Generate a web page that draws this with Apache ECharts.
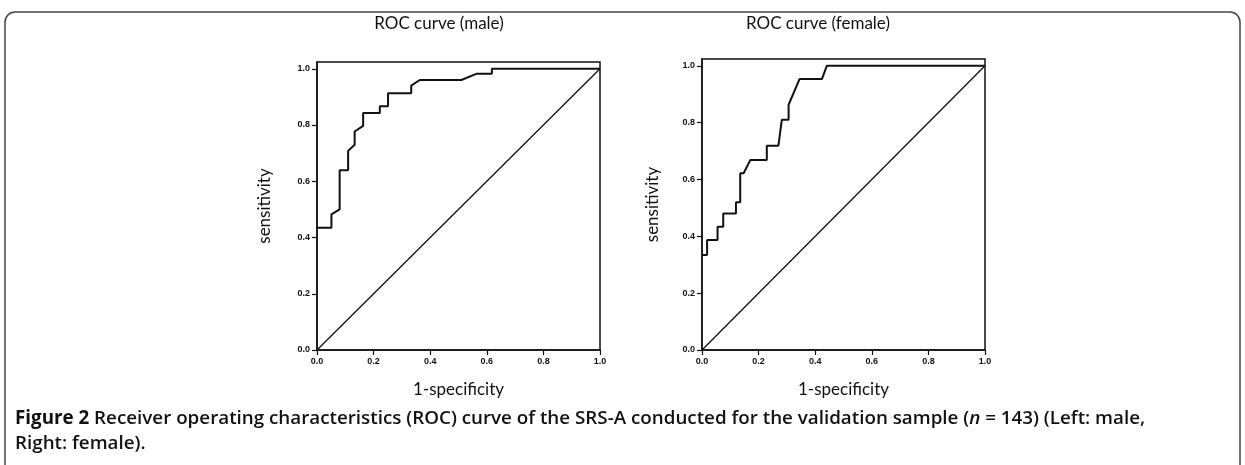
<!DOCTYPE html>
<html>
<head>
<meta charset="utf-8">
<script src="https://cdn.jsdelivr.net/npm/echarts@6/dist/echarts.min.js"></script>
<style>
  html, body { margin: 0; padding: 0; background: #fff; }
  #chart { width: 1245px; height: 465px; }
</style>
</head>
<body>
<div id="chart"></div>
<script>
// values (1-specificity, sensitivity)
var maleFpr = [0, 0.051, 0.051, 0.080, 0.080, 0.110, 0.110, 0.133, 0.133, 0.163, 0.163, 0.222, 0.222, 0.251, 0.251, 0.333, 0.333, 0.363, 0.510, 0.563, 0.618, 0.618, 1];
var maleTpr = [0.435, 0.435, 0.482, 0.500, 0.639, 0.639, 0.708, 0.730, 0.777, 0.797, 0.843, 0.843, 0.867, 0.867, 0.913, 0.913, 0.940, 0.960, 0.960, 0.982, 0.982, 1, 1];
var femaleFpr = [0, 0.018, 0.018, 0.055, 0.055, 0.075, 0.075, 0.120, 0.120, 0.135, 0.135, 0.147, 0.171, 0.229, 0.229, 0.270, 0.282, 0.306, 0.306, 0.345, 0.424, 0.441, 1];
var femaleTpr = [0.334, 0.334, 0.387, 0.387, 0.434, 0.434, 0.480, 0.480, 0.520, 0.520, 0.622, 0.622, 0.669, 0.669, 0.719, 0.719, 0.810, 0.810, 0.863, 0.954, 0.954, 1, 1];
var refLine = [0, 1];
var tickValues = [0, 0.2, 0.4, 0.6, 0.8, 1.0];
var tickLabels = ['0.0', '0.2', '0.4', '0.6', '0.8', '1.0'];
var titles = ['ROC curve (male)', 'ROC curve (female)'];

function pairs(xs, ys) {
    return xs.map(function (x, i) { return [x, ys[i]]; });
}

var ink = '#111';
var tickFont = {
    fontFamily: 'Liberation Sans, Arial, sans-serif',
    fontWeight: 'bold',
    fontSize: 9,
    color: ink
};
function fmt(v) {
    var i = tickValues.indexOf(Math.round(v * 10) / 10);
    return i >= 0 ? tickLabels[i] : '';
}

function xAxis(idx) {
    return {
        type: 'value',
        gridIndex: idx,
        min: 0,
        max: 1,
        name: '1-specificity',
        nameLocation: 'middle',
        nameGap: 31,
        nameTextStyle: { fontFamily: 'Lato', fontSize: 17, color: ink },
        axisLine: { lineStyle: { color: ink, width: 1.5 } },
        axisTick: { show: true, inside: false, length: 5, customValues: tickValues, lineStyle: { color: ink, width: 1.2 } },
        axisLabel: Object.assign({ customValues: tickValues, formatter: fmt, margin: 7 }, tickFont),
        splitLine: { show: false }
    };
}
function yAxis(idx, gap) {
    return {
        type: 'value',
        gridIndex: idx,
        min: 0,
        max: 1.024,
        name: 'sensitivity',
        nameLocation: 'middle',
        nameGap: gap,
        nameTextStyle: { fontFamily: 'Lato', fontSize: 17, color: ink },
        axisLine: { lineStyle: { color: ink, width: 1.5 } },
        axisTick: { show: true, inside: false, length: 5, customValues: tickValues, lineStyle: { color: ink, width: 1.2 } },
        axisLabel: Object.assign({ customValues: tickValues, formatter: fmt, margin: 7 }, tickFont),
        splitLine: { show: false }
    };
}

var chart = echarts.init(document.getElementById('chart'), null, { renderer: 'canvas' });
chart.setOption({
    backgroundColor: '#fff',
    animation: false,
    title: [
        { text: titles[0], left: 434, top: 10, textAlign: 'center',
          textStyle: { fontFamily: 'Lato', fontSize: 17, fontWeight: 'normal', color: ink } },
        { text: titles[1], left: 813, top: 10, textAlign: 'center',
          textStyle: { fontFamily: 'Lato', fontSize: 17, fontWeight: 'normal', color: ink } }
    ],
    grid: [
        { left: 317, top: 62, width: 283, height: 288, show: true, borderColor: ink, borderWidth: 1.5 },
        { left: 702, top: 59, width: 283, height: 291, show: true, borderColor: ink, borderWidth: 1.5 }
    ],
    xAxis: [xAxis(0), xAxis(1)],
    yAxis: [yAxis(0, 44), yAxis(1, 41)],
    series: [
        { type: 'line', xAxisIndex: 0, yAxisIndex: 0, data: pairs(maleFpr, maleTpr),
          showSymbol: false, lineStyle: { color: ink, width: 2 } },
        { type: 'line', xAxisIndex: 0, yAxisIndex: 0, data: pairs(refLine, refLine),
          showSymbol: false, lineStyle: { color: ink, width: 1.3 } },
        { type: 'line', xAxisIndex: 1, yAxisIndex: 1, data: pairs(femaleFpr, femaleTpr),
          showSymbol: false, lineStyle: { color: ink, width: 2 } },
        { type: 'line', xAxisIndex: 1, yAxisIndex: 1, data: pairs(refLine, refLine),
          showSymbol: false, lineStyle: { color: ink, width: 1.3 } }
    ],
    graphic: [
        { type: 'rect', shape: { x: 5, y: 12, width: 1235, height: 520, r: 10 },
          style: { fill: null, stroke: '#444', lineWidth: 1.5 }, silent: true },
        { type: 'text', left: 15, top: 406,
          style: {
              text: '{b|Figure 2} Receiver operating characteristics (ROC) curve of the SRS-A conducted for the validation sample ({i|n} = 143) (Left: male,\nRight: female).',
              lineHeight: 25,
              fill: ink,
              font: '600 18.8px "Open Sans"',
              rich: {
                  b: { fontFamily: 'Open Sans', fontWeight: 'bold', fontSize: 18.8, lineHeight: 25, fill: ink },
                  i: { fontFamily: 'Open Sans', fontStyle: 'italic', fontWeight: 600, fontSize: 18.8, lineHeight: 25, fill: ink }
              }
          } }
    ]
});
</script>
</body>
</html>
